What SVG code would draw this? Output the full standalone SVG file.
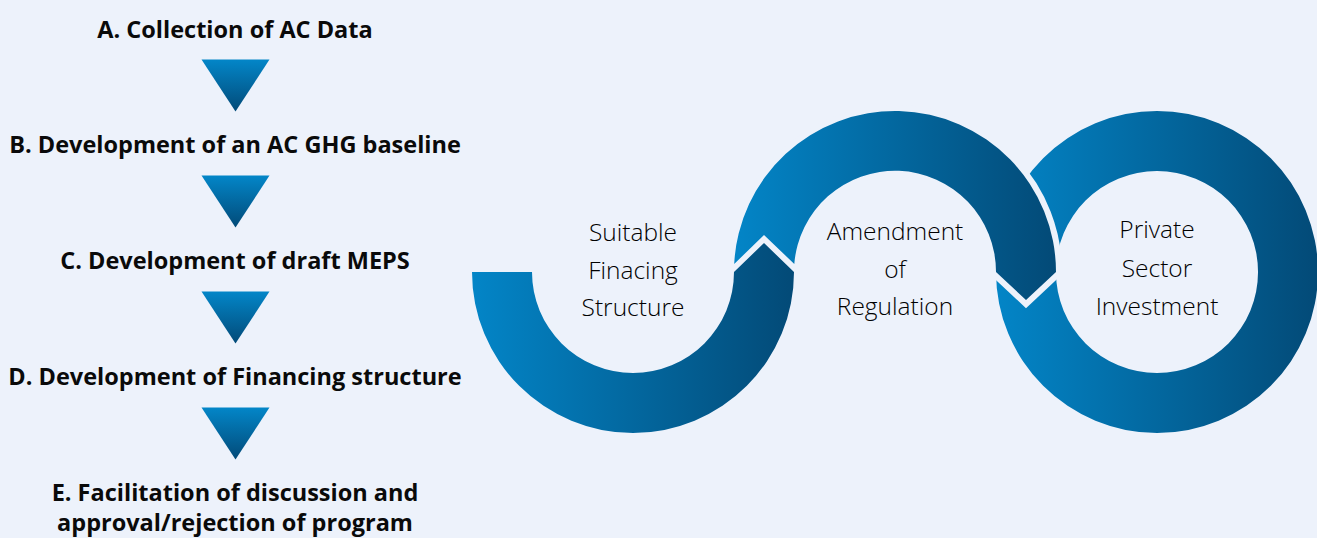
<svg xmlns="http://www.w3.org/2000/svg" width="1317" height="538" viewBox="0 0 1317 538">
  <defs>
    <linearGradient id="gTri" x1="0" y1="0" x2="0" y2="1">
      <stop offset="0" stop-color="#0386C8"/>
      <stop offset="1" stop-color="#024A78"/>
    </linearGradient>
    <linearGradient id="gRing" x1="0" y1="0" x2="1" y2="0">
      <stop offset="0" stop-color="#0385C7"/>
      <stop offset="1" stop-color="#034A77"/>
    </linearGradient>
    <polygon id="tri" points="-34,0 34,0 0,52"/>
    <!-- upper half-ring, notched on the left end and pointed at the right end -->
    <path id="midArc" d="M 734.2 264 A 161 161 0 0 1 1056 272 L 1026 300 L 996 272 A 101 101 0 0 0 794.3 264 L 764 235 Z"/>
  </defs>
  <style>
    .step { font-family: "Open Sans", "Liberation Sans", sans-serif; font-weight: 700; font-size: 23.5px; fill: #0A0A0A; text-anchor: middle; }
    .label { font-family: "Open Sans", "Liberation Sans", sans-serif; font-weight: 350; font-size: 24.5px; fill: #000000; text-anchor: middle; }
    .ring { fill: url(#gRing); }
  </style>

  <rect width="1317" height="538" fill="#EDF2FB"/>

  <!-- process steps -->
  <g id="stepA"><text class="step" x="235" y="38">A. Collection of AC Data</text></g>
  <g id="stepB"><text class="step" x="235" y="153">B. Development of an AC GHG baseline</text></g>
  <g id="stepC"><text class="step" x="235" y="269">C. Development of draft MEPS</text></g>
  <g id="stepD"><text class="step" x="235" y="385">D. Development of Financing structure</text></g>
  <g id="stepE">
    <text class="step" x="235" y="501">E. Facilitation of discussion and</text>
    <text class="step" x="235" y="531">approval/rejection of program</text>
  </g>

  <g id="connectors" fill="url(#gTri)">
    <use href="#tri" x="235.5" y="59.5"/>
    <use href="#tri" x="235.5" y="175.5"/>
    <use href="#tri" x="235.5" y="291.5"/>
    <use href="#tri" x="235.5" y="407.5"/>
  </g>

  <!-- cycle -->
  <g id="privateSector">
    <path class="ring" fill-rule="evenodd" d="M 1157 111 A 161 161 0 1 1 1157 433 A 161 161 0 1 1 1157 111 Z M 1157 171 A 101 101 0 1 0 1157 373 A 101 101 0 1 0 1157 171 Z"/>
    <text class="label" x="1157" y="238">Private</text>
    <text class="label" x="1157" y="277">Sector</text>
    <text class="label" x="1157" y="315">Investment</text>
  </g>
  <g id="amendment">
    <use href="#midArc" fill="none" stroke="#EDF2FB" stroke-width="12" stroke-linejoin="miter"/>
    <use href="#midArc" class="ring"/>
    <text class="label" x="895" y="240">Amendment</text>
    <text class="label" x="895" y="278">of</text>
    <text class="label" x="895" y="315">Regulation</text>
  </g>
  <g id="financing">
    <path class="ring" d="M 472 272 A 161 161 0 0 0 794 272 L 764 243 L 734 272 A 101 101 0 0 1 532 272 Z"/>
    <text class="label" x="633" y="241">Suitable</text>
    <text class="label" x="633" y="279">Finacing</text>
    <text class="label" x="633" y="316">Structure</text>
  </g>
</svg>
